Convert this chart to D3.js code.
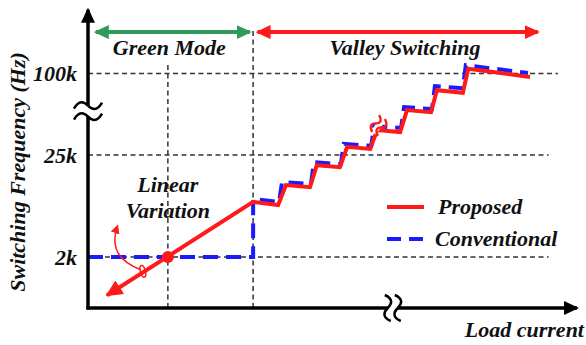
<!DOCTYPE html>
<html>
<head>
<meta charset="utf-8">
<script src="https://cdn.jsdelivr.net/npm/d3@7"></script>
<style>
  html, body { margin: 0; padding: 0; background: #fff; }
  svg { display: block; }
  text { font-family: "Liberation Serif", "Times New Roman", serif; font-weight: bold; font-style: italic; fill: #111; }
</style>
</head>
<body>
<svg id="chart" width="586" height="345"></svg>
<script>
// Frequency levels on the (broken) vertical axis
const tickLabels = ["2k", "25k", "100k"];
const tickLevels = [1, 3, 4.6];

// Load-current boundaries of the operating regions
const linearCenter = 16.3;   // marked operating point of the linear variation
const greenModeEnd = 33.7;   // end of green mode, start of valley switching

// Proposed control: linear variation in green mode, then sloped valley steps
const proposedX = [3.9, 33.7, 38.8, 40.4, 45.3, 46.7, 51.4, 52.9, 57.6, 59.0, 63.7, 65.1, 70.0, 71.2, 76.5, 77.6, 90.2];
const proposedY = [0.25, 2.08, 2.02, 2.41, 2.37, 2.80, 2.76, 3.16, 3.12, 3.49, 3.45, 3.88, 3.84, 4.27, 4.22, 4.69, 4.53];

// Conventional control: fixed 2k in green mode, then vertical valley jumps
const conventionalX = [0, 33.7, 33.7, 39.0, 39.6, 45.5, 46.1, 51.6, 52.2, 57.8, 58.4, 63.9, 64.5, 70.2, 70.8, 76.5, 77.1, 89.8];
const conventionalY = [1, 1, 2.14, 2.08, 2.47, 2.43, 2.86, 2.82, 3.22, 3.18, 3.57, 3.53, 3.94, 3.90, 4.35, 4.31, 4.76, 4.61];

const seriesNames = ["Proposed", "Conventional"];
const regionNames = ["Green Mode", "Valley Switching"];

const RED = "#ff1a1a", BLUE = "#1a1aff", GREEN = "#2f9a5c", GRID = "#333";
const FS = 22;

const svg = d3.select("#chart");
const x = d3.scaleLinear().domain([0, 100]).range([88, 578]);
const y = d3.scaleLinear().domain([0, 6]).range([308, 2]);

// Arrowhead markers
const defs = svg.append("defs");
function marker(id, color, len, half) {
  defs.append("marker")
    .attr("id", id)
    .attr("markerUnits", "userSpaceOnUse")
    .attr("viewBox", `0 ${-half} ${len} ${2 * half}`)
    .attr("refX", len - 2).attr("refY", 0)
    .attr("markerWidth", len).attr("markerHeight", 2 * half)
    .attr("orient", "auto-start-reverse")
    .append("path")
    .attr("d", `M0,${-half} L${len},0 L0,${half} Z`)
    .attr("fill", color);
}
marker("arrBlack", "#000", 15, 7);
marker("arrGreen", GREEN, 15, 7);
marker("arrRed", RED, 15, 7);
marker("arrRedBig", RED, 17, 8);
marker("arrRedSmall", RED, 9, 4.5);

// Dashed reference grid
const grid = svg.append("g").attr("stroke", GRID).attr("stroke-width", 1.5).attr("stroke-dasharray", "5,3.5");
const gridEnds = [94, 94, 95.9];
tickLevels.forEach((v, i) => {
  grid.append("line").attr("x1", x(0)).attr("x2", x(gridEnds[i])).attr("y1", y(v)).attr("y2", y(v));
});
grid.append("line").attr("x1", x(linearCenter)).attr("x2", x(linearCenter)).attr("y1", y(0)).attr("y2", y(4.82));
grid.append("line").attr("x1", x(greenModeEnd)).attr("x2", x(greenModeEnd)).attr("y1", y(0)).attr("y2", y(5.45));

// Region arrows
const regionY = y(5.41);
svg.append("line").attr("x1", x(1.6)).attr("x2", x(33.0)).attr("y1", regionY).attr("y2", regionY)
  .attr("stroke", GREEN).attr("stroke-width", 4)
  .attr("marker-start", "url(#arrGreen)").attr("marker-end", "url(#arrGreen)");
svg.append("line").attr("x1", x(34.6)).attr("x2", x(91.8)).attr("y1", regionY).attr("y2", regionY)
  .attr("stroke", RED).attr("stroke-width", 4)
  .attr("marker-start", "url(#arrRed)").attr("marker-end", "url(#arrRed)");

svg.append("text").attr("x", x(16.6)).attr("y", 55).attr("text-anchor", "middle").attr("font-size", FS).text(regionNames[0]);
svg.append("text").attr("x", x(64.7)).attr("y", 55).attr("text-anchor", "middle").attr("font-size", FS).text(regionNames[1]);

// Series lines
const line = d3.line().x(d => x(d[0])).y(d => y(d[1]));
const conventional = conventionalX.map((v, i) => [v, conventionalY[i]]);
const proposed = proposedX.map((v, i) => [v, proposedY[i]]);

svg.append("path").datum(conventional).attr("d", line)
  .attr("fill", "none").attr("stroke", BLUE).attr("stroke-width", 4)
  .attr("stroke-dasharray", "15,8");
svg.append("path").datum(proposed).attr("d", line)
  .attr("fill", "none").attr("stroke", RED).attr("stroke-width", 4)
  .attr("stroke-linejoin", "miter")
  .attr("marker-start", "url(#arrRedBig)");

// Operating point at 2k
svg.append("circle").attr("cx", x(linearCenter)).attr("cy", y(tickLevels[0])).attr("r", 6).attr("fill", RED);

// Rotation hint around the linear-variation line
svg.append("path")
  .attr("d", `M${x(10.8)},${y(0.75)} Q${x(3.8)},${y(1.0)} ${x(6.0)},${y(1.6)}`)
  .attr("fill", "none").attr("stroke", RED).attr("stroke-width", 1.5)
  .attr("marker-end", "url(#arrRedSmall)");
svg.append("ellipse").attr("cx", x(11.2)).attr("cy", y(0.72)).attr("rx", 2.5).attr("ry", 6)
  .attr("transform", `rotate(-15 ${x(11.2)} ${y(0.72)})`)
  .attr("fill", "none").attr("stroke", RED).attr("stroke-width", 1.5);

svg.append("text").attr("x", x(linearCenter)).attr("y", 192).attr("text-anchor", "middle").attr("font-size", FS).text("Linear");
svg.append("text").attr("x", x(linearCenter)).attr("y", 218).attr("text-anchor", "middle").attr("font-size", FS).text("Variation");

// Break mark on the valley staircase
const sb = svg.append("g").attr("transform", `translate(${x(59.3)},${y(3.58)}) rotate(-55)`);
sb.append("rect").attr("x", -9).attr("y", -3).attr("width", 18).attr("height", 6).attr("fill", "#fff");
[-3.5, 3.5].forEach(dy => {
  sb.append("path").attr("d", `M-9,${dy + 2} C-5,${dy - 5} -2,${dy - 3} 0,${dy} S5,${dy + 5} 9,${dy - 2}`)
    .attr("fill", "none").attr("stroke", RED).attr("stroke-width", 2.4);
});

// Axes
svg.append("line").attr("x1", x(0)).attr("x2", x(0)).attr("y1", y(0) + 1.5).attr("y2", y(5.85))
  .attr("stroke", "#000").attr("stroke-width", 3.5).attr("marker-end", "url(#arrBlack)");
svg.append("line").attr("x1", x(0) - 1.5).attr("x2", x(99.8)).attr("y1", y(0)).attr("y2", y(0))
  .attr("stroke", "#000").attr("stroke-width", 3.5).attr("marker-end", "url(#arrBlack)");

// Vertical axis break
const yb = svg.append("g").attr("transform", `translate(${x(0)},${y(3.86)})`);
yb.append("rect").attr("x", -6).attr("y", -5).attr("width", 12).attr("height", 10).attr("fill", "#fff");
[-5.5, 5.5].forEach(dy => {
  yb.append("path").attr("d", `M-14,${dy + 3} C-9,${dy - 6} -4,${dy - 4} 0,${dy} S9,${dy + 6} 14,${dy - 3}`)
    .attr("fill", "none").attr("stroke", "#000").attr("stroke-width", 2.5);
});

// Horizontal axis break
const xb = svg.append("g").attr("transform", `translate(${x(62.2)},${y(0)})`);
xb.append("rect").attr("x", -5).attr("y", -4).attr("width", 10).attr("height", 8).attr("fill", "#fff");
[-5, 5].forEach(dx => {
  xb.append("path").attr("d", `M${dx - 3},-13 C${dx + 6},-9 ${dx + 4},-4 ${dx},0 S${dx - 6},9 ${dx + 3},13`)
    .attr("fill", "none").attr("stroke", "#000").attr("stroke-width", 2.5);
});

// Tick labels
tickLevels.forEach((v, i) => {
  svg.append("text").attr("x", 77).attr("y", y(v)).attr("dy", "0.35em")
    .attr("text-anchor", "end").attr("font-size", FS).text(tickLabels[i]);
});

// Axis titles
svg.append("text").attr("transform", "translate(25,172) rotate(-90)")
  .attr("text-anchor", "middle").attr("font-size", FS).text("Switching Frequency (Hz)");
svg.append("text").attr("x", 584).attr("y", 337).attr("text-anchor", "end").attr("font-size", FS).text("Load current");

// Legend
const legend = svg.append("g").attr("transform", "translate(387,207)");
legend.append("line").attr("x1", 0).attr("x2", 37).attr("y1", 0).attr("y2", 0)
  .attr("stroke", RED).attr("stroke-width", 4);
legend.append("line").attr("x1", 0).attr("x2", 37).attr("y1", 32).attr("y2", 32)
  .attr("stroke", BLUE).attr("stroke-width", 4).attr("stroke-dasharray", "14,8");
legend.append("text").attr("x", 51).attr("y", 7).attr("font-size", FS).text(seriesNames[0]);
legend.append("text").attr("x", 48).attr("y", 39).attr("font-size", FS).text(seriesNames[1]);
</script>
</body>
</html>
